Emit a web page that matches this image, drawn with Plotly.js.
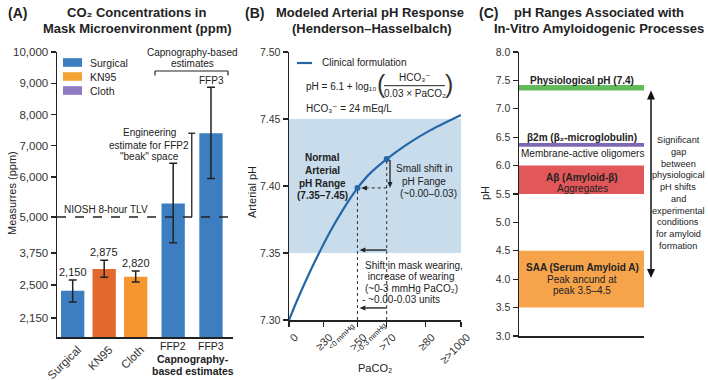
<!DOCTYPE html>
<html><head><meta charset="utf-8">
<script src="https://cdn.plot.ly/plotly-3.0.1.min.js"></script>
<style>html,body{margin:0;padding:0;background:#fff}#chart{width:708px;height:380px}</style>
</head><body><div id="chart"></div>
<script>
// ---------- Panel A data ----------
const maskTypes = ['Surgical', 'KN95', 'Cloth', 'FFP2', 'FFP3'];
const co2Ppm   = [2440, 3125, 2825, 5340, 7400];
const co2Low   = [2320, 2800, 2617, 4110, 5960];
const co2High  = [2695, 3464, 3047, 6440, 8870];
const co2Labels = ['2,150', '2,875', '2,820'];
const nioshTlv = 5000;
const engineeringRange = [5000, 7400];
const ppmTickValues = [2150, 2500, 3750, 5000, 6000, 7000, 8000, 9000, 10000];
const ppmTickText = ['2,150', '2,500', '3,750', '5,000', '6,000', '7,000', '8,000', '9,000', '10,000'];
const legendNames = ['Surgical', 'KN95', 'Cloth'];

// ---------- Panel B data ----------
const paco2Pos   = [0, 4.5, 10.3, 16.1, 23.8, 31.6, 39.8, 47.1, 56.8, 68.4, 82.0, 100];
const arterialPh = [7.300, 7.3140, 7.3308, 7.3464, 7.3657, 7.3828, 7.3984, 7.4094, 7.4201, 7.4309, 7.4415, 7.4530];
const shiftX  = [39.8, 56.8];
const shiftPh = [7.3986, 7.4201];
const normalRange = [7.35, 7.45];
const shiftArrowPh = [7.3522, 7.309];
const paco2TickText = ['0', '≥30', '>50', '>70', '≥80', '≥>1000'];
const phTicks = [7.30, 7.35, 7.40, 7.45, 7.50];

// ---------- Panel C data ----------
const bandNames = ['Physiological', 'β2m', 'Aβ', 'SAA'];
const bandLow  = [7.32, 6.33, 5.5, 3.5];
const bandHigh = [7.42, 6.40, 6.0, 4.5];
const gapArrowPh = [4.02, 7.32];

// ---------- layout / style ----------
const W = 708, H = 380;
const px = x => x / W;
const py = y => 1 - y / H;
const FONT = 'Liberation Sans, Arial, DejaVu Sans, sans-serif';
const INK = '#222';
const barSlot = [0, 1, 2, 3.19, 4.39];
const ppmAxisPos = [1488, 2544, 3568, 4720, 6000, 7000, 8000, 9000, 10000];
const paco2TickPos = [0, 20, 39.8, 56.8, 79.5, 100];
const barColors = ['#3c7ec0', '#e2692d', '#f5962f', '#3c7ec0', '#3c7ec0'];
const legendColors = ['#3c7ec0', '#f5a234', '#8f7bc4'];
const bandColors = ['#63ba5a', '#7d68b5', '#e2585a', '#f6a44c'];
const BLUE = '#2566a8';
const B = { x0: 289, x1: 461, y0: 320, y1: 52, xr: [0, 100], yr: [7.30, 7.50] };
const C = { y0: 336, y1: 52, yr: [3, 8] };
const bx = v => B.x0 + (v - B.xr[0]) / (B.xr[1] - B.xr[0]) * (B.x1 - B.x0);
const by = v => B.y0 - (v - B.yr[0]) / (B.yr[1] - B.yr[0]) * (B.y0 - B.y1);
const cy = v => C.y0 - (v - C.yr[0]) / (C.yr[1] - C.yr[0]) * (C.y0 - C.y1);

function toAxis(v) {
  const t = ppmTickValues, p = ppmAxisPos;
  let i = 0;
  while (i < t.length - 2 && v > t[i + 1]) i++;
  return p[i] + (v - t[i]) * (p[i + 1] - p[i]) / (t[i + 1] - t[i]);
}

const barY = co2Ppm.map(toAxis);
const traces = [
  {
    type: 'bar', x: barSlot, y: barY, width: 0.74, xaxis: 'x', yaxis: 'y',
    marker: { color: barColors, line: { width: 0 } },
    error_y: {
      type: 'data', symmetric: false,
      array: co2High.map((h, i) => toAxis(h) - barY[i]),
      arrayminus: co2Low.map((l, i) => barY[i] - toAxis(l)),
      color: INK, thickness: 1.5, width: 4
    },
    hoverinfo: 'skip', showlegend: false
  },
  {
    type: 'scatter', mode: 'lines', x: paco2Pos, y: arterialPh, xaxis: 'x2', yaxis: 'y2',
    line: { color: BLUE, width: 2.2, shape: 'spline', smoothing: 0.7 }, hoverinfo: 'skip', showlegend: false
  },
  {
    type: 'scatter', mode: 'markers', x: shiftX, y: shiftPh, xaxis: 'x2', yaxis: 'y2',
    marker: { color: BLUE, size: 6 }, hoverinfo: 'skip', showlegend: false
  },
  {
    type: 'bar', x: bandNames.map(() => 0.5), y: bandHigh.map((h, i) => h - bandLow[i]), base: bandLow,
    width: 1, xaxis: 'x3', yaxis: 'y3', marker: { color: bandColors, line: { width: 0 } },
    hoverinfo: 'skip', showlegend: false
  }
];

const shapes = [];
const ann = [];
function T(text, x, y, o = {}) {
  const f = Object.assign({ family: FONT, size: 10, color: INK }, o.font || {});
  ann.push(Object.assign({ text, x: px(x), y: py(y), xref: 'paper', yref: 'paper', showarrow: false,
    xanchor: 'center', yanchor: 'middle' }, o, { font: f }));
}
function L(x0, y0, x1, y1, o = {}) {
  shapes.push(Object.assign({ type: 'line', xref: 'paper', yref: 'paper', x0: px(x0), y0: py(y0), x1: px(x1), y1: py(y1),
    line: { color: INK, width: 1.2 } }, o));
}
function arrow(x0, y0, x1, y1, o = {}) {
  const hl = o.hl || 6, hw = o.hw || 5, col = o.color || INK;
  const dx = x1 - x0, dy = y1 - y0, len = Math.hypot(dx, dy);
  const ux = dx / len, uy = dy / len;
  const bxp = x1 - ux * hl, byp = y1 - uy * hl;
  if (!o.noShaft) L(x0, y0, bxp, byp, { line: { color: col, width: o.w || 1.2, dash: o.dash || 'solid' } });
  const p1 = [bxp - uy * hw / 2, byp + ux * hw / 2], p2 = [bxp + uy * hw / 2, byp - ux * hw / 2];
  shapes.push({ type: 'path', xref: 'paper', yref: 'paper', fillcolor: col, line: { width: 0 },
    path: `M ${px(x1)} ${py(y1)} L ${px(p1[0])} ${py(p1[1])} L ${px(p2[0])} ${py(p2[1])} Z` });
}

// ---- Panel A decorations ----
shapes.push({ type: 'line', xref: 'x domain', yref: 'y', x0: 0, x1: 1, y0: toAxis(nioshTlv), y1: toAxis(nioshTlv),
  line: { color: INK, width: 1.3, dash: 'dash' } });
const engX = 3.78;
shapes.push({ type: 'line', xref: 'x', yref: 'y', x0: engX, x1: engX, y0: toAxis(engineeringRange[0]), y1: toAxis(engineeringRange[1]),
  line: { color: INK, width: 1.3 } });
shapes.push({ type: 'line', xref: 'x', yref: 'y', x0: engX - 0.11, x1: engX + 0.11, y0: toAxis(engineeringRange[1]), y1: toAxis(engineeringRange[1]),
  line: { color: INK, width: 1.3 } });
L(155, 75.5, 155, 71); L(155, 71, 228, 71); L(228, 71, 228, 75.5);
legendNames.forEach((n, i) => {
  const yc = 62.5 + i * 14;
  shapes.push({ type: 'rect', xref: 'paper', yref: 'paper', x0: px(63), x1: px(82), y0: py(yc + 4.3), y1: py(yc - 4.3),
    fillcolor: legendColors[i], line: { width: 0 } });
  T(n, 88, yc, { xanchor: 'left', font: { size: 10.5 } });
});
co2Labels.forEach((t, i) => {
  ann.push({ text: t, x: barSlot[i], y: toAxis(co2High[i]), xref: 'x', yref: 'y', showarrow: false,
    yanchor: 'bottom', yshift: 0, font: { family: FONT, size: 11, color: INK } });
});
T('<b>(A)</b>', 17, 13, { font: { size: 14 } });
T('<b>CO₂ Concentrations in</b>', 136, 13, { font: { size: 13 } });
T('<b>Mask Microenvironment (ppm)</b>', 137, 28.5, { font: { size: 13 } });
T('Measurres (ppm)', 12, 193, { textangle: -90, font: { size: 11 } });
T('Capnography-based', 192, 53);
T('estimates', 192, 63.5);
T('FFP3', 211, 80.5);
T('Engineering', 149, 132.5);
T('estimate for FFP2', 149, 145);
T('"beak" space', 149, 156.5);
T('NIOSH 8-hour TLV', 62, 209, { xanchor: 'left' });
T(maskTypes[3], 173, 345.5, { font: { size: 10.5 } });
T(maskTypes[4], 211, 345.5, { font: { size: 10.5 } });
T('<b>Capnography-</b>', 193, 358.5, { font: { size: 10.5 } });
T('<b>based estimates</b>', 193, 370.5, { font: { size: 10.5 } });

// ---- Panel B decorations ----
shapes.push({ type: 'rect', xref: 'x2 domain', yref: 'y2', x0: 0, x1: 1, y0: normalRange[0], y1: normalRange[1],
  fillcolor: '#c8dcec', line: { width: 0 }, layer: 'below' });
shiftX.forEach((x, i) => {
  shapes.push({ type: 'line', xref: 'x2', yref: 'y2', x0: x, x1: x, y0: 7.30, y1: shiftPh[i],
    line: { color: '#333', width: 1, dash: 'dot' } });
});
arrow(bx(shiftX[1]), by(shiftPh[0]), bx(shiftX[0]) + 3.5, by(shiftPh[0]), { w: 1, dash: 'dot' });
arrow(bx(shiftX[1]) + 3.3, by(shiftPh[1]) + 1, bx(shiftX[1]) + 3.3, by(shiftPh[0]), { w: 1.3 });
shiftArrowPh.forEach(v => arrow(bx(shiftX[1]), by(v), bx(shiftX[0]) + 2, by(v), { w: 1.4 }));
L(297, 63, 312, 63, { line: { color: BLUE, width: 2.2 } });
T('Clinical formulation', 320, 63, { xanchor: 'left' });
T('pH = 6.1 + log₁₀', 304, 86.5, { xanchor: 'left' });
T('(', 381, 84.5, { font: { size: 25, color: '#333' } });
T(')', 449, 84.5, { font: { size: 25, color: '#333' } });
T('HCO₃⁻', 415, 77.5);
L(384, 85.7, 445, 85.7, { line: { color: INK, width: 1 } });
T('0.03 × PaCO₂', 415, 93.5);
T('HCO₃⁻ = 24 mEq/L', 304, 108.5, { xanchor: 'left' });
T('<b>(B)</b>', 254, 13, { font: { size: 14 } });
T('<b>Modeled Arterial pH Response</b>', 370, 13, { font: { size: 13 } });
T('<b>(Henderson–Hasselbalch)</b>', 372, 28.5, { font: { size: 13 } });
T('Arterial pH', 252, 192, { textangle: -90, font: { size: 11 } });
T('PaCO₂', 375, 368, { font: { size: 11 } });
T('<b>Normal</b>', 322, 158);
T('<b>Arterial</b>', 322, 170.5);
T('<b>pH Range</b>', 322, 183);
T('<b>(7.35–7.45)</b>', 322, 195);
T('Small shift in', 424, 169);
T('pH Fange', 424, 181);
T('(~0.00–0.03)', 428, 193);
T('Shift in mask wearing,', 362.5, 265, { xanchor: 'left' });
T(' increase of wearing', 363, 276.5, { xanchor: 'left' });
T('(~0-3 mmHg PaCO₂)', 362.5, 288, { xanchor: 'left' });
T('- ~0.00-0.03 units', 360, 299.5, { xanchor: 'left' });
T('<0 mmHg', 341.5, 336.5, { textangle: -45, font: { size: 7.5 } });
T('~0-3 mmHg', 370.5, 338, { textangle: -45, font: { size: 7.5 } });

// ---- Panel C decorations ----
T('<b>(C)</b>', 488, 13, { font: { size: 14 } });
T('<b>pH Ranges Associated with</b>', 599, 13, { font: { size: 13 } });
T('<b>In-Vitro Amyloidogenic Processes</b>', 598.5, 28.5, { font: { size: 13 } });
T('pH', 485, 193, { textangle: -90, font: { size: 11 } });
T('<b>Physiological pH (7.4)</b>', 582, 80);
T('<b>β2m (β₂-microglobulin)</b>', 582, 137);
T('Membrane-active oligomers', 582, 154);
T('<b>Aβ (Amyloid-β)</b>', 582, 177);
T('Aggregates', 582, 188);
T('<b>SAA (Serum Amyloid A)</b>', 582, 267);
T('Peak ancund at', 582, 279);
T('peak 3.5–4.5', 582, 290.5);
['Significant', 'gap', 'between', 'physiological', 'pH shifts', 'and', 'experimental', 'conditions', 'for amyloid', 'formation']
  .forEach((s, i) => T(s, 678, 140 + i * 11.75, { font: { size: 9.2 } }));
L(651, cy(gapArrowPh[0]) - 8, 651, cy(gapArrowPh[1]) + 8, { line: { color: '#111', width: 1.5 } });
arrow(651, cy(gapArrowPh[0]) - 8, 651, cy(gapArrowPh[0]), { hl: 9, hw: 8, color: '#111', noShaft: true });
arrow(651, cy(gapArrowPh[1]) + 8, 651, cy(gapArrowPh[1]), { hl: 9, hw: 8, color: '#111', noShaft: true });

const axBase = { showgrid: false, zeroline: false, showline: true, linecolor: INK, linewidth: 1.5, fixedrange: true,
  tickcolor: INK, tickwidth: 1.2, tickfont: { family: FONT, size: 10.5, color: '#333' } };

const layout = {
  width: W, height: H, margin: { l: 0, r: 0, t: 0, b: 0 },
  paper_bgcolor: '#fff', plot_bgcolor: 'rgba(0,0,0,0)', barmode: 'overlay', showlegend: false,
  font: { family: FONT, color: INK },
  xaxis: Object.assign({}, axBase, { domain: [px(57), px(233)], range: [-0.498, 5.089], anchor: 'y',
    tickvals: barSlot.slice(0, 3), ticktext: maskTypes.slice(0, 3), tickangle: -45, ticks: '', ticklabelshift: 5,
    tickfont: { family: FONT, size: 11.5, color: '#333' } }),
  yaxis: Object.assign({}, axBase, { domain: [py(337), py(52)], range: [880, 10000], anchor: 'x',
    tickvals: ppmAxisPos, ticktext: ppmTickText, ticks: 'outside', ticklen: 5,
    tickfont: { family: FONT, size: 11.5, color: '#333' } }),
  xaxis2: Object.assign({}, axBase, { domain: [px(B.x0), px(B.x1)], range: B.xr, anchor: 'y2',
    tickvals: paco2TickPos, ticktext: paco2TickText, tickangle: -45, ticks: 'outside', ticklen: 5, ticklabelshift: 6,
    tickfont: { family: FONT, size: 11, color: '#333' } }),
  yaxis2: Object.assign({}, axBase, { domain: [py(B.y0), py(B.y1)], range: B.yr, anchor: 'x2',
    tickvals: phTicks, tickformat: '.2f', ticks: 'outside', ticklen: 5 }),
  xaxis3: Object.assign({}, axBase, { domain: [px(519), px(644)], range: [0, 1], anchor: 'y3',
    showticklabels: false, ticks: '' }),
  yaxis3: Object.assign({}, axBase, { domain: [py(C.y0), py(C.y1)], range: C.yr, anchor: 'x3',
    dtick: 0.5, tick0: 3, tickformat: '.1f', ticks: 'outside', ticklen: 5 }),
  shapes, annotations: ann
};

Plotly.newPlot('chart', traces, layout, { staticPlot: true, displayModeBar: false });
</script></body></html>
